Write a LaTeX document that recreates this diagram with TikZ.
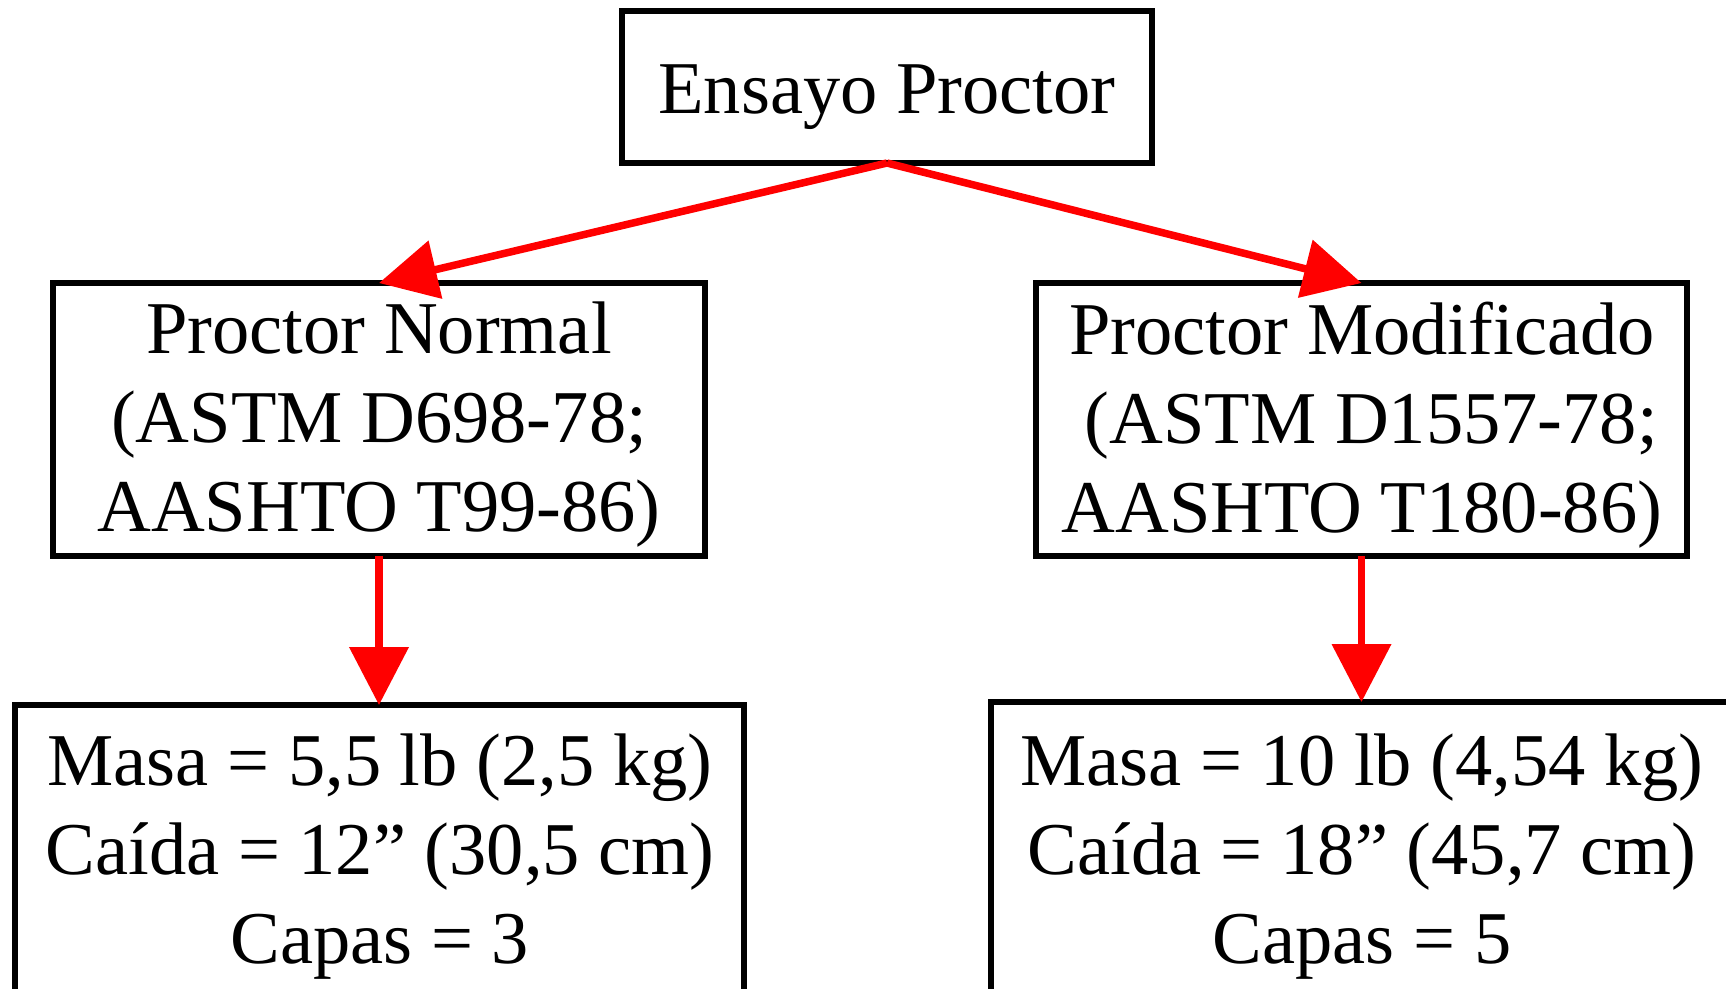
\documentclass[tikz,border=0pt]{standalone}
\usepackage{fontspec}
\setmainfont{Liberation Serif}
\usetikzlibrary{arrows.meta}

\begin{document}
\begin{tikzpicture}[x=1pt, y=-1pt,
  box/.style={draw=black, line width=6pt, outer sep=0pt, inner sep=0pt, fill=none},
  txt/.style={font=\fontsize{74.5}{89}\selectfont, align=center, inner sep=0pt,
              execute at begin node=\strut, execute at end node=\strut},
  link/.style={draw=red, line width=7.5pt, -{Triangle[length=58pt,width=58pt]}}]

  \useasboundingbox (0,0) rectangle (1726,988);
  \clip (0,0) rectangle (1726,988);

  % frames
  \node[box, minimum width=530pt, minimum height=152pt] (top)  at (887,87) {};
  \node[box, minimum width=652pt, minimum height=273pt] (norm) at (379,419.5) {};
  \node[box, minimum width=651pt, minimum height=273pt] (modi) at (1361.5,419.5) {};
  \node[box, minimum width=729pt, minimum height=305pt] (normdata) at (379.5,857.5) {};
  \node[box, minimum width=742pt, minimum height=308pt] (modidata) at (1362,856) {};

  % texts
  \node[txt] (toptext)  at (887,95.2) {Ensayo Proctor};
  \node[txt] (normtext) at (379,430.2) {Proctor Normal\\(ASTM D698-78;\\AASHTO T99-86)};
  \node[txt] (moditext) at (1362,430.2) {Proctor Modificado\\~(ASTM D1557-78;\\AASHTO T180-86)};
  \node[txt] (normdatatext) at (380,861.5) {Masa = 5,5 lb (2,5 kg)\\Caída = 12” (30,5 cm)\\Capas = 3};
  \node[txt] (modidatatext) at (1362,861.5) {Masa = 10 lb (4,54 kg)\\Caída = 18” (45,7 cm)\\Capas = 5};

  % connectors
  \draw[link] (top.south) -- (norm.north);
  \draw[link] (top.south) -- (modi.north);
  \draw[link] (norm.south) -- (norm.south |- normdata.north);
  \draw[link] (modi.south) -- (modi.south |- modidata.north);
\end{tikzpicture}
\end{document}
